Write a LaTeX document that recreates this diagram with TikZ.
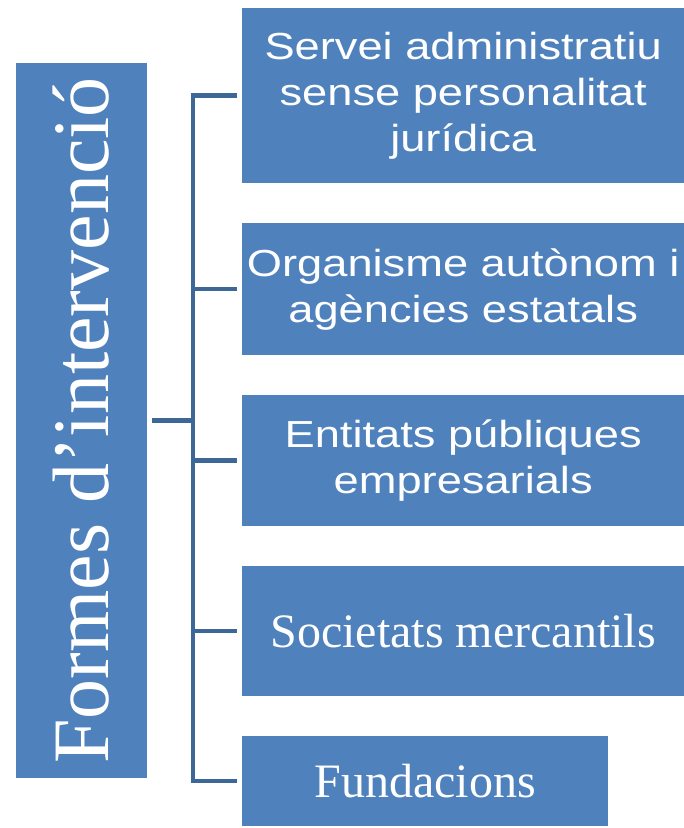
\documentclass[tikz,border=0pt]{standalone}
\usepackage{fontspec}
\setmainfont{Liberation Serif}
\newfontfamily\boxsans[FakeStretch=1.2]{Liberation Sans}
\usetikzlibrary{matrix,
	positioning}
\definecolor{boxblue}{HTML}{4F81BD}
\definecolor{lineblue}{HTML}{3C6797}
\tikzstyle{panel}=[fill=boxblue, text=white, inner sep=0, align=center]
\tikzstyle{item}=[panel, anchor=west, minimum width=442pt, minimum height=131pt]
\tikzstyle{sansitem}=[item, font=\boxsans\fontsize{37.7}{46}\selectfont]
\tikzstyle{serifitem}=[item, font=\fontsize{48}{56}\selectfont]
\tikzstyle{link}=[draw=lineblue, line width=4.5pt]

\begin{document}
\begin{tikzpicture}[x=1pt, y=-1pt]
                \useasboundingbox (0,0) rectangle (684,828);
                \node (forms) [panel, rotate=90, minimum width=715pt, minimum height=131pt,
                    font=\fontsize{80}{90}\selectfont] at (81.5,420.5) {Formes d’intervenció};
                \matrix (opts) [matrix anchor=north west, row sep=40pt, inner sep=0] at (242,8) {
                    \node (s1) [sansitem, minimum height=175pt] {Servei administratiu\\sense personalitat\\jurídica}; \\
                    \node (s2) [sansitem, minimum height=132pt] {Organisme autònom i\\agències estatals}; \\
                    \node (s3) [sansitem] {Entitats públiques\\empresarials}; \\
                    \node (s4) [serifitem, minimum height=130pt] {Societats mercantils}; \\
                    \node (s5) [serifitem, minimum width=366pt, minimum height=90pt] {Fundacions}; \\
                };
                \draw[link] ([xshift=5pt]forms.south) -- ++(41,0) coordinate (hub);
                \foreach \n in {s1,s2,s3,s4,s5}
                    \draw[link] (hub) |- ([xshift=-5pt]\n.west);
            \end{tikzpicture}
\end{document}
